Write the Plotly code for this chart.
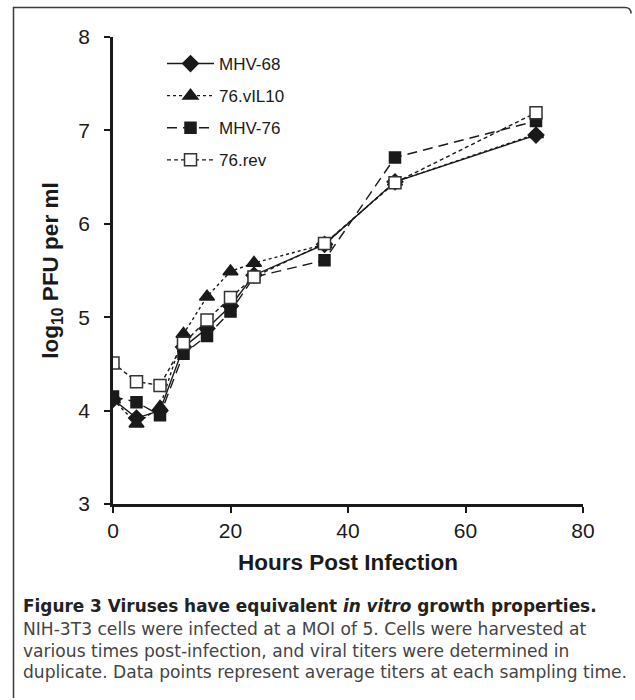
import plotly.graph_objects as go

hours = [0, 4, 8, 12, 16, 20, 24, 36, 48, 72]
mhv68 = [4.12, 3.92, 4.00, 4.68, 4.88, 5.12, 5.45, 5.78, 6.45, 6.95]
vil10 = [4.12, 3.86, 4.04, 4.82, 5.22, 5.49, 5.58, 5.78, 6.45, 6.96]
mhv76 = [4.15, 4.09, 3.95, 4.61, 4.80, 5.06, 5.43, 5.61, 6.71, 7.10]
rev76 = [4.51, 4.31, 4.27, 4.72, 4.97, 5.21, 5.43, 5.79, 6.44, 7.19]

series_names = ["MHV-68", "76.vIL10", "MHV-76", "76.rev"]
x_ticks = [0, 20, 40, 60, 80]
y_ticks = [3, 4, 5, 6, 7, 8]

caption_title = "<b>Figure 3 Viruses have equivalent <i>in vitro</i> growth properties.</b>"
caption_lines = [
    "NIH-3T3 cells were infected at a MOI of 5. Cells were harvested at",
    "various times post-infection, and viral titers were determined in",
    "duplicate. Data points represent average titers at each sampling time.",
]

W, H = 635, 700
L, R, T, B = 113, 52, 37, 196
pw, ph = W - L - R, H - T - B


def px(x):
    return (x - L) / pw


def py(y):
    return (H - B - y) / ph


styles = [
    dict(dash="solid", symbol="diamond", size=12, color="#1a1a1a", fill="#1a1a1a"),
    dict(dash="dot", symbol="triangle-up", size=13, color="#1a1a1a", fill="#1a1a1a"),
    dict(dash="10px,6px", symbol="square", size=11, color="#1a1a1a", fill="#1a1a1a"),
    dict(dash="4px,3px", symbol="square", size=12, color="#333333", fill="white"),
]

fig = go.Figure()
for i, (name, vals) in enumerate(zip(series_names, [mhv68, vil10, mhv76, rev76])):
    s = styles[i]
    fig.add_trace(go.Scatter(
        x=hours, y=vals, name=name, mode="lines+markers",
        legendgroup=name,
        line=dict(color="#1a1a1a", width=1.4, dash=s["dash"]),
        marker=dict(symbol=s["symbol"], size=s["size"], color=s["fill"],
                    line=dict(color=s["color"], width=1.5)),
    ))

fig.update_layout(
    width=W, height=H,
    margin=dict(l=L, r=R, t=T, b=B, pad=0),
    paper_bgcolor="white", plot_bgcolor="white",
    font=dict(family="Liberation Sans, Arial, sans-serif", color="#1a1a1a", size=18),
    showlegend=True,
    legend=dict(x=px(162), y=py(46), xanchor="left", yanchor="top",
                bgcolor="rgba(0,0,0,0)", font=dict(size=17),
                traceorder="grouped", tracegroupgap=7, itemwidth=47),
    xaxis=dict(range=[0, 80], tickvals=x_ticks, showgrid=False, zeroline=False,
               showline=True, linecolor="#1a1a1a", linewidth=2.5,
               ticks="outside", ticklen=6, tickwidth=2, tickcolor="#1a1a1a",
               tickfont=dict(size=21),
               title=dict(text="<b>Hours Post Infection</b>", font=dict(size=22.5), standoff=14)),
    yaxis=dict(range=[3, 8], tickvals=y_ticks, showgrid=False, zeroline=False,
               showline=True, linecolor="#1a1a1a", linewidth=2.5,
               ticks="outside", ticklen=6, tickwidth=2, tickcolor="#1a1a1a",
               tickfont=dict(size=21), ticklabelstandoff=10,
               title=dict(text="<b>log<sub>10</sub> PFU per ml</b>", font=dict(size=22.5), standoff=14)),
)

# border (left side, top, rounded top-right corner)
xl, xr, yt, yb = px(13.5), px(631), py(7.5), py(698)
rx, ry = 6 / pw, 6 / ph
path = (f"M {xl},{yb} L {xl},{yt} L {xr - rx},{yt} "
        f"Q {xr},{yt} {xr},{yt - ry}")
fig.add_shape(type="path", path=path, xref="paper", yref="paper",
              line=dict(color="#3a3a3a", width=1.5))

cap_font = "DejaVu Sans, Open Sans, sans-serif"
fig.add_annotation(text=caption_title, x=px(21), y=py(606), xref="paper", yref="paper",
                   xanchor="left", yanchor="middle", showarrow=False,
                   font=dict(family=cap_font, size=16.9, color="#222222"))
for k, line in enumerate(caption_lines):
    fig.add_annotation(text=line, x=px(21), y=py(629 + 21.5 * k), xref="paper", yref="paper",
                       xanchor="left", yanchor="middle", showarrow=False,
                       font=dict(family=cap_font, size=17.1, color="#444444"))

fig.write_html("out.html", config={"displayModeBar": False},
               post_script="document.body.style.margin='0';")
